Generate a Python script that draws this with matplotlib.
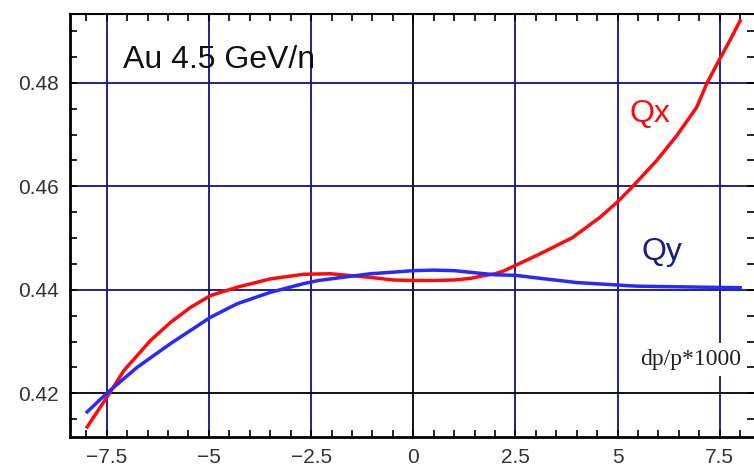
import numpy as np
import matplotlib.pyplot as plt
from matplotlib.ticker import MultipleLocator, FuncFormatter

# Qx (red)
qx_dp = [-7.98, -7.5, -7.08, -6.43, -5.94, -5.45, -4.96, -4.31, -3.5, -2.68, -2.03, -1.05, -0.5, 0.0,
         0.5, 1.0, 1.4, 1.7, 2.0, 2.2, 2.5, 3.09, 3.9, 4.57, 5.0, 5.35, 5.96, 6.45, 6.94, 7.18, 7.46, 7.75, 8.0]
qx = [0.4135, 0.4192, 0.4244, 0.4302, 0.4337, 0.4366, 0.4389, 0.4405, 0.4421, 0.4430, 0.4431, 0.4424, 0.4419, 0.4418,
      0.4418, 0.4419, 0.4422, 0.4427, 0.4431, 0.4436, 0.4447, 0.4469, 0.4501, 0.4540, 0.4570, 0.4598, 0.4650, 0.4698,
      0.4753, 0.4798, 0.4840, 0.4882, 0.4920]

# Qy (blue)
qy_dp = [-7.98, -7.5, -6.76, -5.94, -4.96, -4.31, -3.5, -2.68, -2.32, -1.05, -0.5, 0.0,
         0.5, 1.0, 1.5, 2.0, 2.5, 3.02, 4.0, 5.47, 8.0]
qy = [0.4164, 0.4200, 0.4250, 0.4296, 0.4347, 0.4373, 0.4395, 0.4412, 0.4418, 0.4431, 0.4434, 0.4437,
      0.4438, 0.4437, 0.4433, 0.4429, 0.4428, 0.4423, 0.4414, 0.4407, 0.4404]

x_ticks = [-7.5, -5, -2.5, 0, 2.5, 5, 7.5]
y_ticks = [0.42, 0.44, 0.46, 0.48]
navy = "#10108a"

plt.rcParams['font.family'] = ['Liberation Sans', 'DejaVu Sans']

fig = plt.figure(figsize=(7.54, 4.73), dpi=100)
ax = fig.add_axes([70 / 754, 36 / 473, 684 / 754, 423 / 473])

# grid, black at x=0 and y=0.42
for v in x_ticks:
    ax.axvline(v, color="black" if v == 0 else navy, lw=1.3, zorder=1)
for v in y_ticks:
    ax.axhline(v, color="black" if v == 0.42 else navy, lw=1.3, zorder=1)

ax.plot(qx_dp, qx, color="#ff0a0a", lw=2.5, zorder=3)
ax.plot(qy_dp, qy, color="#2828ff", lw=2.5, zorder=4)

ax.set_xlim(-8.4, 8.34)
ax.set_ylim(0.41155, 0.4933)

ax.set_xticks(x_ticks)
ax.set_yticks(y_ticks)
ax.xaxis.set_minor_locator(MultipleLocator(0.5))
ax.yaxis.set_minor_locator(MultipleLocator(0.005))
ax.xaxis.set_major_formatter(FuncFormatter(lambda v, p: ("%g" % v).replace("-", "\u2212")))
ax.yaxis.set_major_formatter(FuncFormatter(lambda v, p: "%.2f" % v))
ax.tick_params(which="both", direction="in", top=True, right=True, length=5, width=1.2,
               labelsize=15, labelcolor="#333333", pad=8)

for side in ["left", "bottom"]:
    ax.spines[side].set_linewidth(2)
ax.spines["top"].set_linewidth(1.5)
ax.spines["right"].set_visible(False)

ax.text(0.0775, 0.872, "Au 4.5 GeV/n", transform=ax.transAxes, fontsize=23,
        color="#111111", fontweight="medium")
ax.text(0.818, 0.745, "Qx", transform=ax.transAxes, fontsize=23, color="#ff0a0a")
ax.text(0.836, 0.418, "Qy", transform=ax.transAxes, fontsize=23, color="#1a1a8c")
ax.text(0.981, 0.17, "dp/p*1000", transform=ax.transAxes, fontsize=17, ha="right",
        family="Liberation Serif", color="#222222", zorder=5,
        bbox=dict(facecolor="white", edgecolor="none", pad=4))

fig.savefig("out.png", dpi=100)
